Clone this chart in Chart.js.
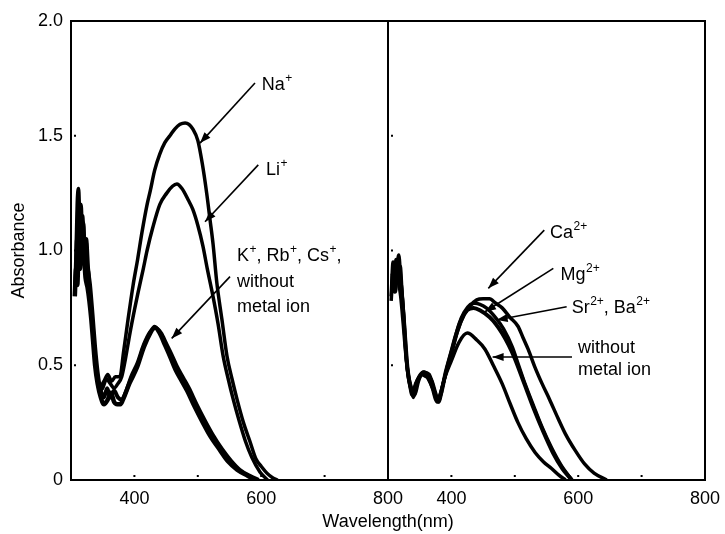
<!DOCTYPE html>
<html>
<head>
<meta charset="utf-8">
<script src="https://cdn.jsdelivr.net/npm/chart.js@4"></script>
<style>
  html, body { margin: 0; padding: 0; background: #fff; }
</style>
</head>
<body>
<canvas id="absChart" width="725" height="534"></canvas>
<script>
// Left panel: alkali metal ions (wavelength nm / absorbance)
var naX = [306,308,310,312,314,316,318,320,322,324,326,328,330,333,336,339,342,346,352,358,364,370,377,383,390,398,405,412,420,425,432,440,448,456,464,472,480,486,492,500,507,514,519,524,530,538,546,554,562,572,582,592,600,609,618,626];
var naY = [0.82,1.00,1.22,1.27,1.15,1.20,1.08,1.12,1.00,1.04,0.93,0.90,0.80,0.70,0.60,0.50,0.44,0.41,0.43,0.46,0.43,0.45,0.45,0.56,0.70,0.85,0.96,1.08,1.20,1.26,1.35,1.42,1.47,1.50,1.53,1.55,1.556,1.55,1.53,1.48,1.38,1.25,1.14,1.03,0.86,0.70,0.54,0.44,0.35,0.25,0.17,0.09,0.06,0.03,0.01,0];
var liX = [307,309,311,313,315,317,319,321,323,325,327,329,332,335,338,341,345,350,356,362,368,374,380,386,393,400,406,414,420,429,440,451,460,467,475,485,492,500,508,515,524,532,540,548,556,565,575,585,598,610];
var liY = [0.85,1.05,0.98,1.18,1.05,1.10,0.95,1.02,0.92,0.96,0.85,0.80,0.72,0.62,0.52,0.45,0.39,0.40,0.44,0.42,0.40,0.42,0.45,0.53,0.64,0.74,0.82,0.92,1.00,1.10,1.20,1.25,1.28,1.29,1.27,1.22,1.18,1.11,1.02,0.92,0.80,0.68,0.54,0.44,0.35,0.26,0.17,0.10,0.035,0];
var kX = [306,308,310,312,314,316,318,320,323,326,329,332,335,338,342,347,352,358,363,368,373,378,382,392,404,415,425,432,440,448,456,465,475,483,495,508,520,535,548,562,578,592];
var kY = [0.80,0.92,0.85,1.00,0.92,1.05,0.95,0.98,0.88,0.84,0.78,0.70,0.60,0.50,0.42,0.36,0.33,0.35,0.38,0.34,0.33,0.33,0.35,0.42,0.49,0.58,0.64,0.667,0.64,0.59,0.54,0.48,0.43,0.39,0.32,0.25,0.19,0.13,0.08,0.045,0.02,0];
var noneLX = [309,312,315,318,321,324,327,330,334,338,342,346,352,357,362,368,374,380,386,395,405,415,425,433,442,450,458,467,477,486,498,511,524,538,552,566,582,596];
var noneLY = [0.90,1.10,0.98,1.15,1.00,1.05,0.92,0.85,0.72,0.58,0.47,0.40,0.36,0.40,0.36,0.39,0.36,0.35,0.38,0.45,0.51,0.59,0.645,0.662,0.64,0.595,0.55,0.495,0.445,0.40,0.33,0.26,0.195,0.135,0.085,0.045,0.018,0];

// Right panel: alkaline earth metal ions
var caX = [305,308,311,314,317,320,323,326,329,332,336,340,344,349,356,365,372,379,385,393,402,410,420,430,440,450,460,470,480,492,505,513,521,532,543,555,568,580,595,610,625,645];
var caY = [0.80,0.95,0.85,0.92,0.98,0.88,0.78,0.65,0.52,0.45,0.40,0.36,0.40,0.45,0.47,0.46,0.40,0.34,0.40,0.48,0.57,0.65,0.72,0.76,0.785,0.79,0.79,0.77,0.75,0.71,0.67,0.62,0.57,0.49,0.42,0.35,0.27,0.20,0.13,0.07,0.03,0];
var mgX = [306,309,312,315,318,321,324,327,330,334,338,342,347,353,360,368,375,380,387,395,403,412,420,430,437,445,455,469,482,496,506,516,530,543,558,574,590];
var mgY = [0.85,0.92,0.82,0.95,0.90,0.85,0.75,0.62,0.50,0.42,0.37,0.40,0.44,0.46,0.45,0.44,0.38,0.34,0.42,0.51,0.59,0.68,0.73,0.765,0.77,0.765,0.75,0.71,0.66,0.58,0.50,0.42,0.32,0.23,0.14,0.06,0];
var srX = [307,310,313,316,319,322,325,328,331,335,339,344,350,357,364,371,378,384,391,399,407,416,425,435,445,460,470,480,490,500,515,530,545,560,575,590];
var srY = [0.90,0.82,0.96,0.88,0.93,0.80,0.70,0.58,0.48,0.41,0.38,0.42,0.45,0.47,0.44,0.40,0.35,0.38,0.47,0.55,0.63,0.70,0.74,0.75,0.74,0.71,0.68,0.64,0.59,0.53,0.42,0.31,0.21,0.12,0.05,0];
var noneRX = [305,308,311,314,317,320,324,328,332,337,342,348,355,363,370,377,383,390,400,412,425,440,453,466,480,493,505,518,532,545,558,570,580];
var noneRY = [0.78,0.90,0.84,0.95,0.86,0.80,0.68,0.55,0.46,0.40,0.37,0.43,0.47,0.45,0.40,0.34,0.38,0.45,0.52,0.60,0.64,0.61,0.57,0.50,0.42,0.33,0.25,0.18,0.12,0.08,0.05,0.02,0];

// tick labels
var panelTicks = [400, 600, 800];
var yTicks = [0, 0.5, 1.0, 1.5, 2.0];

// both panels share one x axis, the right one is shifted by this much
var PANEL_SHIFT = 500;
var FONT = "'Liberation Sans', Arial, sans-serif";

function pts(xs, ys, panel) {
    return xs.map(function (x, i) { return { x: x + panel * PANEL_SHIFT, y: ys[i] }; });
}

// callout labels: text parts are [base, superscript]
var notes = [
    { panel: 0, at: [601, 1.70], from: [590.2, 1.73], to: [503.5, 1.468], gap: 25, lines: [[['Na', '+']]] },
    { panel: 0, at: [607.6, 1.329], from: [595.4, 1.373], to: [511.4, 1.125], gap: 25, lines: [[['Li', '+']]] },
    { panel: 0, at: [561.8, 0.954], from: [550.8, 0.886], to: [458.8, 0.617], gap: 25.5,
      lines: [[['K', '+'], [', Rb', '+'], [', Cs', '+'], [',', '']], [['without', '']], [['metal ion', '']]] },
    { panel: 1, at: [555.5, 1.054], from: [546.5, 1.089], to: [458.2, 0.835], gap: 25, lines: [[['Ca', '2+']]] },
    { panel: 1, at: [572, 0.871], from: [560.8, 0.922], to: [453, 0.733], gap: 25, lines: [[['Mg', '2+']]] },
    { panel: 1, at: [589.7, 0.728], from: [581.8, 0.755], to: [471.4, 0.697], gap: 25, lines: [[['Sr', '2+'], [', Ba', '2+']]] },
    { panel: 1, at: [599.7, 0.553], from: [590.2, 0.536], to: [465, 0.536], gap: 21.5, lines: [[['without', '']], [['metal ion', '']]] }
];

function series(label, xs, ys, panel, width) {
    return {
        label: label,
        data: pts(xs, ys, panel),
        borderColor: '#000',
        borderWidth: width || 3.5,
        pointRadius: 0,
        fill: false,
        cubicInterpolationMode: 'monotone'
    };
}

var framePlugin = {
    id: 'frame',
    afterDatasetsDraw: function (chart) {
        var ctx = chart.ctx, a = chart.chartArea;
        var xs = chart.scales.x, ys = chart.scales.y;
        ctx.save();
        ctx.strokeStyle = '#000';
        ctx.lineWidth = 2;
        ctx.strokeRect(a.left, a.top, a.right - a.left, a.bottom - a.top);
        var mid = xs.getPixelForValue(800);
        ctx.beginPath();
        ctx.moveTo(mid, a.top);
        ctx.lineTo(mid, a.bottom);
        ctx.stroke();

        // little inner tick dots
        ctx.fillStyle = '#000';
        [400, 500, 600, 700, 900, 1000, 1100, 1200].forEach(function (v) {
            ctx.fillRect(xs.getPixelForValue(v) - 1, a.bottom - 5, 2, 2);
        });
        [0.5, 1.0, 1.5].forEach(function (v) {
            var py = ys.getPixelForValue(v);
            ctx.fillRect(a.left + 3, py - 1, 2, 2);
            ctx.fillRect(mid + 3, py - 1, 2, 2);
        });

        // callouts
        notes.forEach(function (n) {
            var off = n.panel * PANEL_SHIFT;
            var fx = xs.getPixelForValue(n.from[0] + off), fy = ys.getPixelForValue(n.from[1]);
            var tx = xs.getPixelForValue(n.to[0] + off), ty = ys.getPixelForValue(n.to[1]);
            ctx.lineWidth = 1.6;
            ctx.beginPath();
            ctx.moveTo(fx, fy);
            ctx.lineTo(tx, ty);
            ctx.stroke();
            var ang = Math.atan2(ty - fy, tx - fx), L = 11, W = 4;
            ctx.beginPath();
            ctx.moveTo(tx, ty);
            ctx.lineTo(tx - L * Math.cos(ang) + W * Math.sin(ang), ty - L * Math.sin(ang) - W * Math.cos(ang));
            ctx.lineTo(tx - L * Math.cos(ang) - W * Math.sin(ang), ty - L * Math.sin(ang) + W * Math.cos(ang));
            ctx.closePath();
            ctx.fill();

            var x0 = xs.getPixelForValue(n.at[0] + off), y0 = ys.getPixelForValue(n.at[1]);
            ctx.textBaseline = 'alphabetic';
            ctx.textAlign = 'left';
            n.lines.forEach(function (line, li) {
                var x = x0, y = y0 + li * n.gap;
                line.forEach(function (part) {
                    ctx.font = '18px ' + FONT;
                    ctx.fillText(part[0], x, y);
                    x += ctx.measureText(part[0]).width;
                    if (part[1]) {
                        ctx.font = '12px ' + FONT;
                        ctx.fillText(part[1], x + 0.5, y - 8);
                        x += ctx.measureText(part[1]).width + 0.5;
                    }
                });
            });
        });
        ctx.restore();
    }
};

var ctx = document.getElementById('absChart').getContext('2d');
var absChart = new Chart(ctx, {
    type: 'line',
    data: {
        datasets: [
            series('Na+', naX, naY, 0),
            series('Li+', liX, liY, 0),
            series('K+, Rb+, Cs+', kX, kY, 0, 4.5),
            series('without metal ion', noneLX, noneLY, 0, 4),
            series('Ca2+', caX, caY, 1),
            series('Mg2+', mgX, mgY, 1),
            series('Sr2+, Ba2+', srX, srY, 1, 4),
            series('without metal ion', noneRX, noneRY, 1)
        ]
    },
    options: {
        responsive: false,
        animation: false,
        layout: { padding: { top: 21, right: 20, left: 0, bottom: 0 } },
        scales: {
            x: {
                type: 'linear',
                min: 300,
                max: 300 + 2 * PANEL_SHIFT,
                grid: { display: false, drawTicks: false },
                border: { display: false },
                afterBuildTicks: function (scale) {
                    var t = [];
                    panelTicks.forEach(function (v) { t.push({ value: v }); });
                    panelTicks.forEach(function (v) { t.push({ value: v + PANEL_SHIFT }); });
                    scale.ticks = t;
                },
                afterFit: function (scale) {
                    scale.height = 54;
                    scale.paddingLeft = 0;
                    scale.paddingRight = 0;
                },
                ticks: {
                    color: '#000',
                    padding: 8,
                    maxRotation: 0,
                    font: { family: FONT, size: 18 },
                    callback: function (v) { return v > 800 ? v - PANEL_SHIFT : v; }
                },
                title: {
                    display: true,
                    text: 'Wavelength(nm)',
                    color: '#000',
                    font: { family: FONT, size: 18 },
                    padding: { top: 0, bottom: 1 }
                }
            },
            y: {
                min: 0,
                max: 2,
                grid: { display: false, drawTicks: false },
                border: { display: false },
                afterBuildTicks: function (scale) {
                    scale.ticks = yTicks.map(function (v) { return { value: v }; });
                },
                afterFit: function (scale) { scale.width = 71; },
                ticks: {
                    color: '#000',
                    padding: 8,
                    font: { family: FONT, size: 18 },
                    callback: function (v) { return v === 0 ? '0' : v.toFixed(1); }
                },
                title: {
                    display: true,
                    text: 'Absorbance',
                    color: '#000',
                    font: { family: FONT, size: 18 },
                    padding: { top: 8, bottom: 0 }
                }
            }
        },
        plugins: {
            legend: { display: false },
            tooltip: { enabled: false }
        }
    },
    plugins: [framePlugin]
});
</script>
</body>
</html>
